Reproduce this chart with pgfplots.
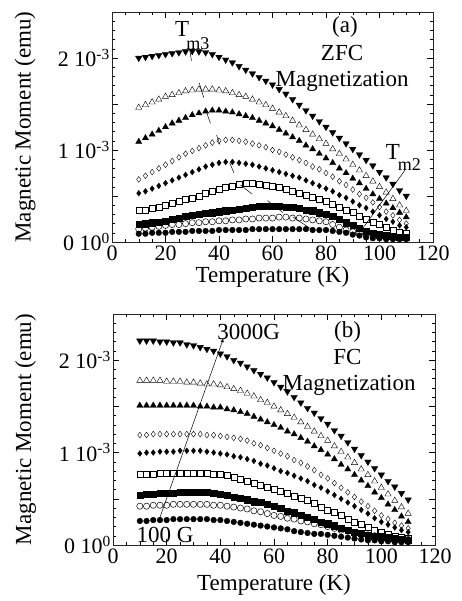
\documentclass[border=0pt]{standalone}
\usepackage{fontspec}
\setmainfont{Liberation Serif}
\usepackage{pgfplots}
\usepackage{pgfplotstable}
\pgfplotsset{compat=1.18}

\pgfplotstableread{
T a1 a2 a3 a4 a5 a6 a7 a8 a9
10 2.00 1.46 1.09 0.68 0.53 0.34 0.19 0.14 0.09
12.5 2.01 1.49 1.13 0.72 0.55 0.35 0.20 0.15 0.09
15 2.02 1.52 1.17 0.76 0.58 0.37 0.21 0.16 0.10
17.5 2.03 1.55 1.21 0.80 0.61 0.38 0.22 0.17 0.10
20 2.04 1.58 1.25 0.84 0.64 0.40 0.23 0.18 0.10
22.5 2.05 1.60 1.29 0.88 0.67 0.42 0.25 0.19 0.11
25 2.06 1.62 1.32 0.92 0.70 0.44 0.26 0.19 0.11
27.5 2.07 1.64 1.35 0.96 0.73 0.46 0.28 0.20 0.11
30 2.075 1.65 1.38 0.99 0.76 0.48 0.29 0.21 0.12
32.5 2.07 1.66 1.40 1.02 0.79 0.50 0.30 0.21 0.12
35 2.06 1.66 1.42 1.05 0.82 0.53 0.31 0.22 0.12
37.5 2.04 1.66 1.43 1.08 0.84 0.55 0.32 0.22 0.12
40 2.01 1.65 1.43 1.10 0.86 0.57 0.33 0.23 0.13
42.5 1.98 1.64 1.42 1.11 0.87 0.59 0.34 0.23 0.13
45 1.95 1.62 1.41 1.11 0.87 0.61 0.35 0.24 0.13
47.5 1.91 1.60 1.39 1.10 0.86 0.63 0.36 0.24 0.13
50 1.87 1.58 1.37 1.09 0.85 0.64 0.37 0.25 0.13
52.5 1.83 1.55 1.35 1.07 0.84 0.64 0.38 0.25 0.14
55 1.79 1.52 1.32 1.05 0.82 0.63 0.39 0.26 0.14
57.5 1.75 1.49 1.29 1.03 0.80 0.62 0.39 0.26 0.14
60 1.71 1.45 1.26 1.00 0.78 0.61 0.39 0.26 0.14
62.5 1.66 1.41 1.22 0.98 0.76 0.59 0.39 0.27 0.14
65 1.61 1.37 1.18 0.95 0.74 0.57 0.38 0.27 0.14
67.5 1.55 1.32 1.14 0.92 0.72 0.55 0.38 0.26 0.14
70 1.49 1.27 1.10 0.89 0.70 0.53 0.37 0.26 0.14
72.5 1.43 1.22 1.05 0.86 0.67 0.51 0.35 0.25 0.14
75 1.37 1.17 1.01 0.82 0.64 0.49 0.34 0.24 0.13
77.5 1.31 1.12 0.96 0.79 0.61 0.46 0.32 0.23 0.13
80 1.25 1.07 0.91 0.75 0.58 0.44 0.30 0.22 0.13
82.5 1.19 1.01 0.86 0.71 0.55 0.41 0.28 0.19 0.12
85 1.13 0.96 0.80 0.66 0.51 0.38 0.25 0.16 0.11
87.5 1.07 0.90 0.75 0.62 0.48 0.35 0.21 0.13 0.10
90 1.01 0.84 0.69 0.57 0.44 0.32 0.18 0.11 0.08
92.5 0.95 0.78 0.64 0.52 0.40 0.28 0.15 0.09 0.07
95 0.89 0.72 0.58 0.48 0.37 0.25 0.12 0.08 0.05
97.5 0.83 0.66 0.52 0.43 0.33 0.22 0.10 0.07 0.04
100 0.76 0.60 0.47 0.38 0.29 0.19 0.08 0.06 0.04
102.5 0.70 0.54 0.42 0.33 0.25 0.16 0.07 0.06 0.03
105 0.63 0.47 0.37 0.29 0.22 0.13 0.06 0.05 0.03
107.5 0.56 0.40 0.32 0.24 0.18 0.11 0.05 0.05 0.03
110 0.50 0.34 0.27 0.20 0.16 0.09 0.05 0.05 0.03
}\zfc

\pgfplotstableread{
T b1 b2 b3 b4 b5 b6 b7 b8 b9
10 2.21 1.78 1.51 1.19 0.99 0.77 0.54 0.42 0.26
12.5 2.21 1.78 1.51 1.19 1.00 0.77 0.55 0.42 0.26
15 2.21 1.78 1.51 1.20 1.00 0.77 0.55 0.43 0.27
17.5 2.20 1.78 1.51 1.20 1.01 0.78 0.56 0.43 0.27
20 2.20 1.77 1.51 1.20 1.01 0.78 0.56 0.43 0.27
22.5 2.19 1.77 1.51 1.20 1.01 0.78 0.56 0.44 0.28
25 2.19 1.77 1.51 1.20 1.02 0.78 0.57 0.44 0.28
27.5 2.17 1.76 1.51 1.20 1.02 0.78 0.57 0.44 0.28
30 2.16 1.76 1.51 1.20 1.02 0.78 0.57 0.44 0.28
32.5 2.14 1.75 1.50 1.20 1.02 0.78 0.57 0.44 0.28
35 2.12 1.74 1.50 1.19 1.01 0.78 0.57 0.44 0.28
37.5 2.10 1.74 1.49 1.19 1.00 0.77 0.56 0.43 0.27
40 2.07 1.73 1.49 1.18 0.99 0.77 0.55 0.43 0.27
42.5 2.04 1.71 1.47 1.17 0.98 0.75 0.54 0.42 0.26
45 2.00 1.69 1.46 1.16 0.96 0.73 0.52 0.41 0.25
47.5 1.97 1.67 1.44 1.15 0.95 0.71 0.51 0.40 0.24
50 1.93 1.64 1.42 1.13 0.93 0.69 0.49 0.39 0.23
52.5 1.89 1.61 1.39 1.10 0.91 0.67 0.47 0.37 0.22
55 1.85 1.57 1.36 1.08 0.88 0.65 0.46 0.36 0.21
57.5 1.81 1.54 1.33 1.05 0.86 0.62 0.44 0.34 0.20
60 1.76 1.50 1.30 1.02 0.83 0.60 0.42 0.32 0.19
62.5 1.71 1.46 1.27 0.99 0.80 0.58 0.40 0.31 0.18
65 1.66 1.42 1.23 0.96 0.78 0.56 0.37 0.29 0.17
67.5 1.60 1.38 1.20 0.92 0.75 0.53 0.35 0.28 0.15
70 1.54 1.33 1.16 0.89 0.72 0.51 0.32 0.26 0.14
72.5 1.48 1.28 1.12 0.85 0.69 0.48 0.30 0.25 0.13
75 1.43 1.23 1.07 0.81 0.65 0.45 0.28 0.23 0.12
77.5 1.37 1.18 1.03 0.76 0.62 0.41 0.25 0.22 0.12
80 1.31 1.13 0.98 0.72 0.58 0.38 0.23 0.20 0.11
82.5 1.24 1.07 0.93 0.67 0.54 0.35 0.21 0.18 0.10
85 1.18 1.01 0.87 0.62 0.50 0.32 0.18 0.16 0.09
87.5 1.11 0.95 0.82 0.57 0.46 0.28 0.16 0.15 0.08
90 1.04 0.89 0.76 0.52 0.42 0.25 0.14 0.13 0.07
92.5 0.97 0.82 0.70 0.47 0.38 0.22 0.13 0.12 0.06
95 0.90 0.76 0.64 0.42 0.34 0.19 0.11 0.11 0.05
97.5 0.83 0.69 0.57 0.37 0.29 0.16 0.10 0.10 0.05
100 0.76 0.62 0.51 0.32 0.25 0.14 0.09 0.09 0.04
102.5 0.69 0.55 0.44 0.28 0.22 0.12 0.08 0.08 0.04
105 0.63 0.48 0.38 0.24 0.19 0.10 0.07 0.07 0.03
107.5 0.56 0.41 0.31 0.21 0.16 0.08 0.06 0.06 0.03
110 0.49 0.34 0.25 0.18 0.14 0.07 0.05 0.06 0.03
}\fc

\newcommand{\lbl}{\fontsize{23}{26}\selectfont}
\newcommand{\tck}{\fontsize{22}{24}\selectfont}
\newcommand{\sub}{\fontsize{18}{20}\selectfont}

\pgfplotsset{
  panel/.style={
    scale only axis,
    xmin=0, xmax=120, ymin=0, ymax=2.5,
    xtick={0,20,...,120},
    minor x tick num=3,
    ytick={0,0.5,1,1.5,2,2.5},
    yticklabels={{0 10\textsuperscript{0}},,{1 10\textsuperscript{-3}},,{2 10\textsuperscript{-3}},},
    minor y tick num=4,
    tick align=inside,
    major tick length=6pt,
    minor tick length=3pt,
    tick style={line width=0.5pt, black},
    axis line style={line width=0.6pt, black!85},
    /pgf/number format/assume math mode=true,
    tick label style={font=\tck},
    xticklabel style={inner sep=0pt, yshift=-3.5pt},
    yticklabel style={inner sep=2pt},
    label style={font=\lbl},
    xlabel={Temperature (K)},
    ylabel={Magnetic Moment (emu)},
    ylabel style={at={(axis description cs:-0.271,0.5)}, anchor=center},
  },
  m1/.style={only marks, mark=triangle*, mark size=3.8pt, mark options={rotate=180, fill=black, draw=black, line width=0.3pt}},
  m2/.style={only marks, mark=triangle, mark size=3.6pt, mark options={fill=white, draw=black, line width=0.4pt}},
  m3/.style={only marks, mark=triangle*, mark size=3.6pt, mark options={fill=black, draw=black, line width=0.3pt}},
  m4/.style={only marks, mark=diamond, mark size=2.9pt, mark options={fill=white, draw=black, line width=0.4pt}},
  m5/.style={only marks, mark=diamond*, mark size=2.9pt, mark options={fill=black, draw=black, line width=0.3pt}},
  m6/.style={only marks, mark=square, mark size=3.0pt, mark options={fill=white, draw=black, line width=0.5pt}},
  m7/.style={only marks, mark=square*, mark size=3.1pt, mark options={fill=black, draw=black, line width=0.3pt}},
  m8/.style={only marks, mark=o, mark size=3.1pt, mark options={fill=white, draw=black, line width=0.5pt}},
  m9/.style={only marks, mark=*, mark size=2.9pt, mark options={fill=black, draw=black, line width=0.3pt}},
}

\begin{document}
\begin{tikzpicture}
\path[use as bounding box] (0pt,0pt) rectangle (462pt,601pt);

% ---------------- (a) ZFC ----------------
\begin{axis}[panel, width=321pt, height=230pt, at={(112pt,359pt)}, anchor=south west,
  xlabel style={at={(axis description cs:0.5,-0.178)}, anchor=base, inner sep=0pt}]
\addplot[m9] table[x=T, y=a9] {\zfc};
\addplot[m8] table[x=T, y=a8] {\zfc};
\addplot[m7] table[x=T, y=a7] {\zfc};
\addplot[m6] table[x=T, y=a6] {\zfc};
\addplot[m5] table[x=T, y=a5] {\zfc};
\addplot[m4] table[x=T, y=a4] {\zfc};
\addplot[m3] table[x=T, y=a3] {\zfc};
\addplot[m2] table[x=T, y=a2] {\zfc};
\addplot[m1] table[x=T, y=a1] {\zfc};
% T_m3 line segments
\draw[line width=0.5pt] (axis cs:29.1,2.08) -- (axis cs:29.7,1.97);
\draw[line width=0.5pt] (axis cs:32.6,1.73) -- (axis cs:34.3,1.57);
\draw[line width=0.5pt] (axis cs:35.1,1.43) -- (axis cs:36.8,1.29);
\draw[line width=0.5pt] (axis cs:39.1,1.16) -- (axis cs:40.3,1.06);
\draw[line width=0.5pt] (axis cs:44.0,0.86) -- (axis cs:45.6,0.75);
\draw[line width=0.5pt] (axis cs:48.0,0.62) -- (axis cs:52.4,0.52);
\draw[line width=0.5pt] (axis cs:58.1,0.45) -- (axis cs:63.9,0.32);
\draw[line width=0.5pt] (axis cs:67.7,0.27) -- (axis cs:74.5,0.14);
% T_m2 line
\draw[line width=0.5pt] (axis cs:109.5,0.78) -- (axis cs:93,0.12);
\node[font=\lbl] at (axis cs:26.2,2.31) {T};
\node[font=\sub] at (axis cs:32.1,2.16) {m3};
\node[font=\lbl] at (axis cs:105,0.98) {T};
\node[font=\sub] at (axis cs:111.2,0.84) {m2};
\node[font=\lbl] at (axis cs:87.1,2.34) {(a)};
\node[font=\lbl] at (axis cs:86,2.05) {ZFC};
\node[font=\lbl] at (axis cs:86,1.75) {Magnetization};
\end{axis}

% ---------------- (b) FC ----------------
\begin{axis}[panel, width=322pt, height=231pt, at={(113pt,56pt)}, anchor=south west,
  xlabel style={at={(axis description cs:0.5,-0.195)}, anchor=base, inner sep=0pt}]
\addplot[m9] table[x=T, y=b9] {\fc};
\addplot[m8] table[x=T, y=b8] {\fc};
\addplot[m7] table[x=T, y=b7] {\fc};
\addplot[m6] table[x=T, y=b6] {\fc};
\addplot[m5] table[x=T, y=b5] {\fc};
\addplot[m4] table[x=T, y=b4] {\fc};
\addplot[m3] table[x=T, y=b3] {\fc};
\addplot[m2] table[x=T, y=b2] {\fc};
\addplot[m1] table[x=T, y=b1] {\fc};
\draw[line width=0.5pt, -{latex}] (axis cs:16.9,0.25) -- (axis cs:41.2,2.24);
\node[font=\lbl] at (axis cs:50.6,2.31) {3000G};
\node[font=\lbl] at (axis cs:19.4,0.11) {100 G};
\node[font=\lbl] at (axis cs:87.4,2.31) {(b)};
\node[font=\lbl] at (axis cs:87.4,2.04) {FC};
\node[font=\lbl] at (axis cs:88,1.73) {Magnetization};
\end{axis}
\end{tikzpicture}
\end{document}
